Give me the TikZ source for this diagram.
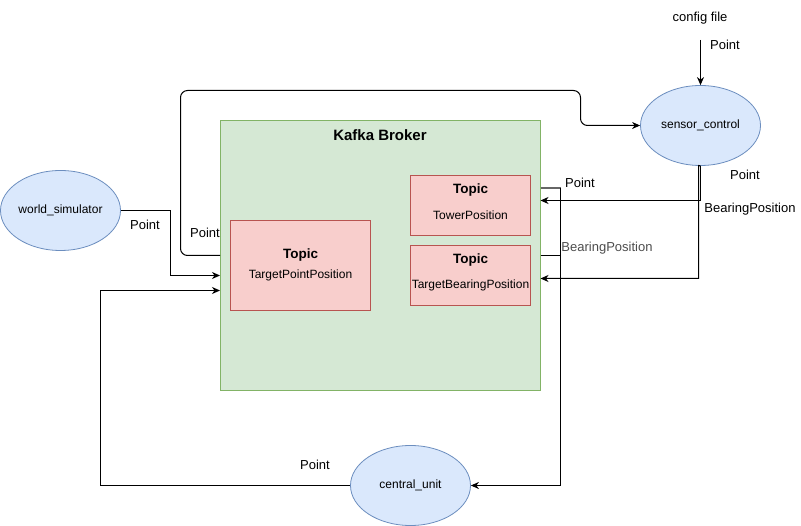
\documentclass[tikz,border=0pt]{standalone}
\usepackage{fontspec}
\setmainfont{Liberation Sans}
\usetikzlibrary{arrows.meta,shapes.geometric}
\definecolor{kfill}{HTML}{D5E8D4}
\definecolor{kline}{HTML}{82B366}
\definecolor{tfill}{HTML}{F8CECC}
\definecolor{tline}{HTML}{B85450}
\definecolor{efill}{HTML}{DAE8FC}
\definecolor{eline}{HTML}{6C8EBF}
\definecolor{lblgray}{HTML}{4D4D4D}
\begin{document}
\begin{tikzpicture}[x=1pt,y=-1pt,
  ell/.style={draw=eline,fill=efill,ellipse,minimum width=120pt,minimum height=80pt,inner sep=0pt,font=\fontsize{12}{14}\selectfont,line width=0.8pt},
  topicbox/.style={draw=tline,fill=tfill,line width=0.8pt},
  conn/.style={draw=black,line width=1pt,-{Stealth[length=8pt,width=7pt,inset=2.5pt]}},
  plain/.style={draw=black,line width=1pt},
  lbl/.style={font=\fontsize{13}{15}\selectfont,inner sep=0pt},
  ttl/.style={font=\bfseries\fontsize{13.5}{16}\selectfont,inner sep=0pt},
  sub/.style={font=\fontsize{12}{14}\selectfont,inner sep=0pt}
]
\useasboundingbox (0,0) rectangle (801,526);
\fill[white] (0,0) rectangle (801,526);

% Kafka broker
\draw[draw=kline,fill=kfill,line width=0.8pt] (220,120.5) rectangle (540.5,390) coordinate (kbr);
\node[font=\bfseries\fontsize{15}{17}\selectfont,inner sep=0pt] (ktitle) at (380,135) {Kafka Broker};
\coordinate (k1) at (220,275.5);
\coordinate (k2) at (220,255.5);
\coordinate (k3) at (220,290.5);
\coordinate (k4) at (540.5,188);
\coordinate (k5) at (540.5,255.5);
\coordinate (k6) at (540.5,200.5);
\coordinate (k7) at (540.5,278.5);

% Topics
\draw[topicbox] (230.5,220.5) rectangle (370.5,310.5);
\node[ttl] (t1) at (300.5,255) {Topic};
\node[sub] (t1s) at (300.5,275) {TargetPointPosition};
\draw[topicbox] (410.5,175.5) rectangle (530.5,235.5);
\node[ttl] (t2) at (470.5,190) {Topic};
\node[sub] (t2s) at (470.5,215.5) {TowerPosition};
\draw[topicbox] (410.5,245.5) rectangle (530.5,305.5);
\node[ttl] (t3) at (470.5,260) {Topic};
\node[sub] (t3s) at (470.5,285) {TargetBearingPosition};

% Ellipses
\node[ell] (ws) at (60.5,210.5) {world\_simulator};
\node[ell] (sc) at (700.5,125.5) {sensor\_control};
\node[ell] (cu) at (410.5,485.5) {central\_unit};

% config file
\node[lbl] (cfg) at (700,18) {config file};
\coordinate (cfgs) at (700.5,40);
\draw[conn] (cfgs) -- (sc.north);
\node[lbl] (l0) at (725,45) {Point};

% world_simulator -> Kafka
\draw[conn] (ws.east) -- (170.5,210.5) -- (170.5,275.5) -- (k1);
\node[lbl] (l1) at (145,225) {Point};

% Kafka -> sensor_control
\draw[conn,rounded corners=7pt] (k2) -- (180.5,255.5) -- (180.5,90.5) -- (580.5,90.5) -- (580.5,125.5) -- (sc.west);
\node[lbl] (l2) at (205,233) {Point};

% central_unit -> Kafka
\draw[conn] (cu.west) -- (100.5,485.5) -- (100.5,290.5) -- (k3);
\node[lbl] (l3) at (315,465) {Point};

% Kafka -> central_unit
\draw[plain,draw=black!60,line width=1.5pt] (k4) -- (560.5,188);
\draw[conn] (560.5,188) -- (560.5,485.5) -- (cu.east);
\draw[plain] (k5) -- (560.5,255.5);
\node[lbl] (l4) at (580,183) {Point};
\node[lbl,text=lblgray] (l5) at (607,248) {BearingPosition};

% sensor_control -> Kafka
\draw[conn] (sc.south) -- (700.5,200.5) -- (k6);
\draw[conn] (sc.south) -- (698.5,165.5) -- (698.5,278.5) -- (k7);
\node[lbl] (l6) at (745,175) {Point};
\node[lbl] (l7) at (750,209) {BearingPosition};
\end{tikzpicture}
\end{document}
